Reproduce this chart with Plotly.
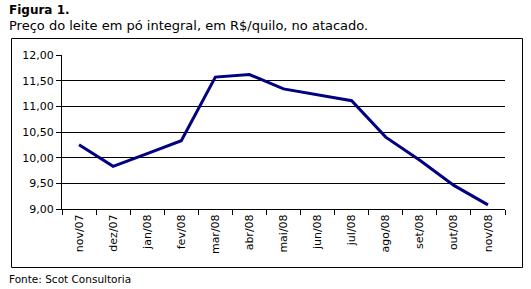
import plotly.graph_objects as go

categories = ["nov/07", "dez/07", "jan/08", "fev/08", "mar/08", "abr/08", "mai/08",
              "jun/08", "jul/08", "ago/08", "set/08", "out/08", "nov/08"]
prices = [10.25, 9.83, 10.08, 10.33, 11.57, 11.62, 11.34, 11.22, 11.11, 10.40, 9.95, 9.46, 9.08]
y_ticks = [9.0, 9.5, 10.0, 10.5, 11.0, 11.5, 12.0]

W, H = 531, 289
L, R, T, B = 62, 505, 55, 209
pw, ph = R - L, B - T

def px(x):
    return (x - L) / pw

def py(y):
    return (B - y) / ph

FONT = "Verdana, DejaVu Sans, sans-serif"

fig = go.Figure()
fig.add_trace(go.Scatter(x=categories, y=prices, mode="lines",
                         line=dict(color="#000080", width=3), hoverinfo="skip"))

fig.update_layout(
    width=W, height=H,
    margin=dict(l=L, r=W - R, t=T, b=H - B),
    paper_bgcolor="white", plot_bgcolor="white",
    separators=",.",
    showlegend=False,
    font=dict(family=FONT, color="black", size=11),
    xaxis=dict(type="category", tickson="boundaries", ticks="outside", ticklen=5,
               tickcolor="black", showline=True, linecolor="black", linewidth=1,
               showgrid=False, tickangle=-90, tickfont=dict(size=11, family=FONT),
               range=[-0.5, len(categories) - 0.5], fixedrange=True),
    yaxis=dict(range=[9, 12], tickvals=y_ticks, tickformat=".2f", ticks="outside",
               ticklen=5, tickcolor="black", showline=True, linecolor="black",
               linewidth=1, showgrid=True, gridcolor="black", gridwidth=1,
               zeroline=False, tickfont=dict(size=11, family=FONT), fixedrange=True),
)

# outer frame
fig.add_shape(type="rect", xref="paper", yref="paper",
              x0=px(11.5), x1=px(522.5), y0=py(267.5), y1=py(38.5),
              line=dict(color="black", width=1), fillcolor="rgba(0,0,0,0)")

fig.add_annotation(text="<b>Figura 1.</b>", xref="paper", yref="paper",
                   x=px(7), y=py(10), xanchor="left", yanchor="middle",
                   showarrow=False, font=dict(size=12, family=FONT))
fig.add_annotation(text="Preço do leite em pó integral, em R$/quilo, no atacado.",
                   xref="paper", yref="paper", x=px(7), y=py(25),
                   xanchor="left", yanchor="middle", showarrow=False,
                   font=dict(size=13, family=FONT))
fig.add_annotation(text="Fonte: Scot Consultoria", xref="paper", yref="paper",
                   x=px(7), y=py(279), xanchor="left", yanchor="middle",
                   showarrow=False, font=dict(size=10.5, family=FONT))

fig.write_html("out.html", config={"displayModeBar": False})
